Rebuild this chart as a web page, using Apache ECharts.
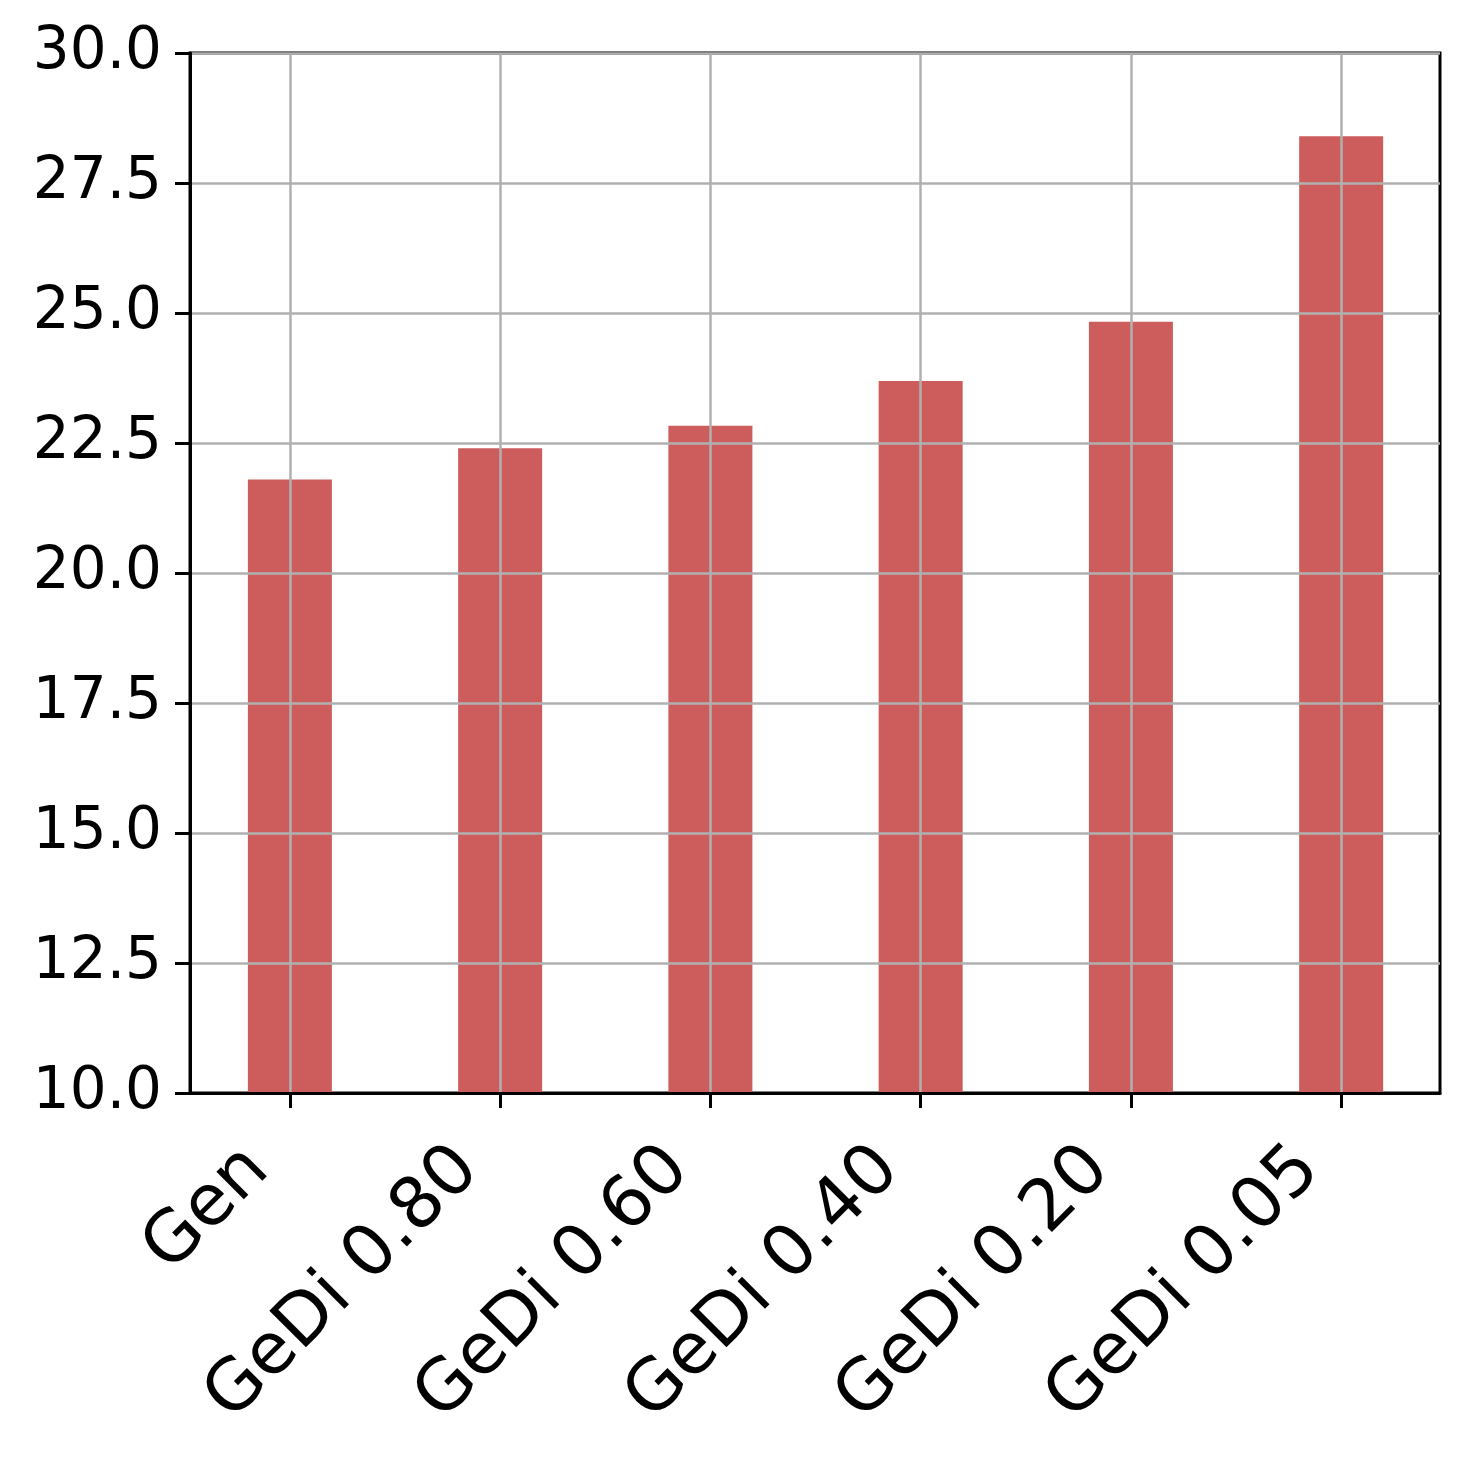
<!DOCTYPE html>
<html>
<head>
<meta charset="utf-8">
<script src="https://cdn.jsdelivr.net/npm/echarts@6/dist/echarts.min.js"></script>
<style>
  html, body { margin: 0; padding: 0; background: #fff; }
  #chart { width: 1469px; height: 1468px; }
</style>
</head>
<body>
<div id="chart"></div>
<script>
const categories = ['Gen', 'GeDi 0.80', 'GeDi 0.60', 'GeDi 0.40', 'GeDi 0.20', 'GeDi 0.05'];
const values = [21.8, 22.4, 22.83, 23.69, 24.83, 28.4];
const yTicks = { min: 10, max: 30, step: 2.5 };
// matplotlib-style x limits around bar positions 0..5
const xLimits = [-0.475, 5.47];

const positions = categories.map((c, i) => i);

const chart = echarts.init(document.getElementById('chart'));

const option = {
  animation: false,
  backgroundColor: '#fff',
  textStyle: { fontFamily: 'DejaVu Sans' },
  grid: {
    left: 190,
    right: 29,
    top: 53,
    bottom: 375,
    show: true,
    borderColor: '#000',
    borderWidth: 3
  },
  xAxis: {
    type: 'value',
    min: xLimits[0],
    max: xLimits[1],
    z: 5,
    axisLine: { show: true, onZero: false, lineStyle: { color: '#000', width: 3 } },
    axisTick: { show: true, customValues: positions, length: 15, lineStyle: { color: '#000', width: 3 } },
    splitLine: { show: true, customValues: positions, lineStyle: { color: '#b0b0b0', width: 2.5 } },
    axisLabel: {
      customValues: positions,
      rotate: 45,
      margin: 34,
      padding: [0, 45, 0, 0],
      fontSize: 71,
      color: '#000',
      fontFamily: 'DejaVu Sans',
      formatter: v => categories[Math.round(v)] || ''
    }
  },
  yAxis: {
    type: 'value',
    min: yTicks.min,
    max: yTicks.max,
    interval: yTicks.step,
    z: 5,
    axisLine: { show: true, onZero: false, lineStyle: { color: '#000', width: 3 } },
    axisTick: { show: true, length: 15, lineStyle: { color: '#000', width: 3 } },
    splitLine: { show: true, lineStyle: { color: '#b0b0b0', width: 2.5 } },
    axisLabel: {
      margin: 28,
      padding: [4, 0, 0, 0],
      fontSize: 58,
      color: '#000',
      fontFamily: 'DejaVu Sans',
      formatter: v => v.toFixed(1)
    }
  },
  series: [
    {
      type: 'bar',
      data: positions.map(i => [i, values[i]]),
      barWidth: 84,
      itemStyle: { color: '#cd5c5c' }
    }
  ]
};

chart.setOption(option);
</script>
</body>
</html>
